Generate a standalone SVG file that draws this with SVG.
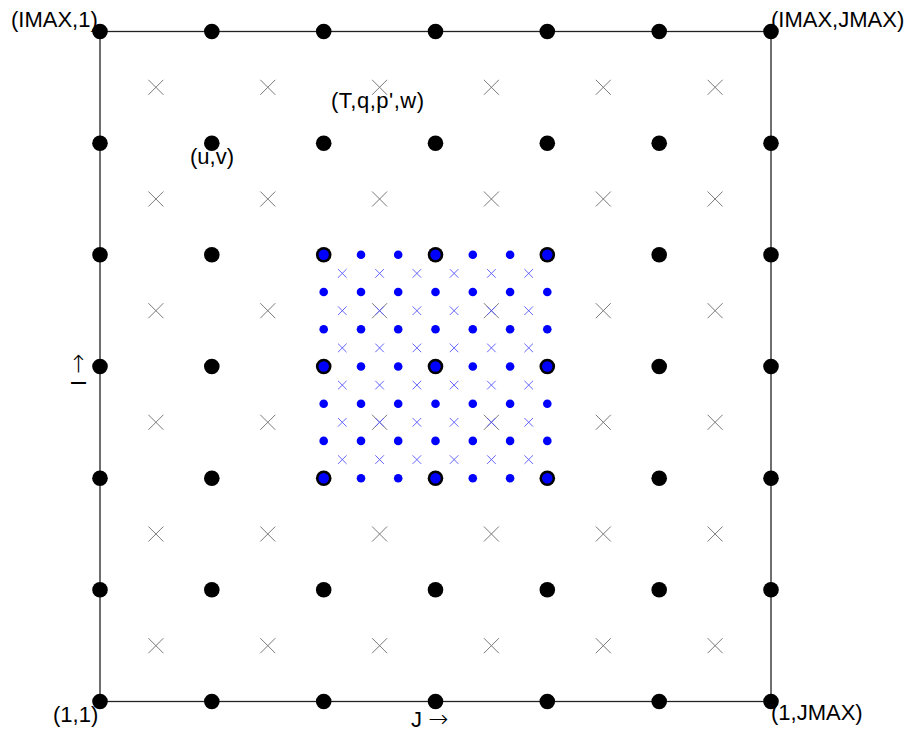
<svg xmlns="http://www.w3.org/2000/svg" xmlns:xlink="http://www.w3.org/1999/xlink" width="911" height="733" viewBox="0 0 911 733">
<style>
text{font-family:"Liberation Sans",Arial,sans-serif;font-size:22px;fill:#000}
.arr{font-family:"DejaVu Sans",sans-serif;font-size:24px;font-weight:200}
.frame{fill:none;stroke:#222;stroke-width:1.3}
</style>
<defs>
<path id="gx" d="M-7.5-7.5L7.5 7.5M7.5-7.5L-7.5 7.5" stroke="#7a7a7a" stroke-width="1" fill="none"/>
<path id="bx" d="M-4.3-4.3L4.3 4.3M4.3-4.3L-4.3 4.3" stroke="#5555ff" stroke-width="0.9" fill="none"/>
<circle id="kd" r="7.8" fill="#000"/>
<circle id="bd" r="4.3" fill="#0000ff"/>
<circle id="bc" r="5.2" fill="#0000ff"/>
</defs>
<rect width="911" height="733" fill="#fff"/>
<g id="connectors">
<rect class="frame" x="100" y="31.5" width="671" height="670"/>
</g>
<g id="mass-points">
<use href="#gx" x="155.9" y="87.3"/><use href="#gx" x="267.8" y="87.3"/><use href="#gx" x="379.6" y="87.3"/><use href="#gx" x="491.4" y="87.3"/><use href="#gx" x="603.3" y="87.3"/><use href="#gx" x="715.1" y="87.3"/>
<use href="#gx" x="155.9" y="199"/><use href="#gx" x="267.8" y="199"/><use href="#gx" x="379.6" y="199"/><use href="#gx" x="491.4" y="199"/><use href="#gx" x="603.3" y="199"/><use href="#gx" x="715.1" y="199"/>
<use href="#gx" x="155.9" y="310.7"/><use href="#gx" x="267.8" y="310.7"/><use href="#gx" x="379.6" y="310.7"/><use href="#gx" x="491.4" y="310.7"/><use href="#gx" x="603.3" y="310.7"/><use href="#gx" x="715.1" y="310.7"/>
<use href="#gx" x="155.9" y="422.3"/><use href="#gx" x="267.8" y="422.3"/><use href="#gx" x="379.6" y="422.3"/><use href="#gx" x="491.4" y="422.3"/><use href="#gx" x="603.3" y="422.3"/><use href="#gx" x="715.1" y="422.3"/>
<use href="#gx" x="155.9" y="534"/><use href="#gx" x="267.8" y="534"/><use href="#gx" x="379.6" y="534"/><use href="#gx" x="491.4" y="534"/><use href="#gx" x="603.3" y="534"/><use href="#gx" x="715.1" y="534"/>
<use href="#gx" x="155.9" y="645.7"/><use href="#gx" x="267.8" y="645.7"/><use href="#gx" x="379.6" y="645.7"/><use href="#gx" x="491.4" y="645.7"/><use href="#gx" x="603.3" y="645.7"/><use href="#gx" x="715.1" y="645.7"/>
</g>
<g id="fine-mass-points">
<use href="#bx" x="342.3" y="273.4"/><use href="#bx" x="379.6" y="273.4"/><use href="#bx" x="416.9" y="273.4"/><use href="#bx" x="454.1" y="273.4"/><use href="#bx" x="491.4" y="273.4"/><use href="#bx" x="528.7" y="273.4"/>
<use href="#bx" x="342.3" y="310.7"/><use href="#bx" x="379.6" y="310.7"/><use href="#bx" x="416.9" y="310.7"/><use href="#bx" x="454.1" y="310.7"/><use href="#bx" x="491.4" y="310.7"/><use href="#bx" x="528.7" y="310.7"/>
<use href="#bx" x="342.3" y="347.9"/><use href="#bx" x="379.6" y="347.9"/><use href="#bx" x="416.9" y="347.9"/><use href="#bx" x="454.1" y="347.9"/><use href="#bx" x="491.4" y="347.9"/><use href="#bx" x="528.7" y="347.9"/>
<use href="#bx" x="342.3" y="385.1"/><use href="#bx" x="379.6" y="385.1"/><use href="#bx" x="416.9" y="385.1"/><use href="#bx" x="454.1" y="385.1"/><use href="#bx" x="491.4" y="385.1"/><use href="#bx" x="528.7" y="385.1"/>
<use href="#bx" x="342.3" y="422.3"/><use href="#bx" x="379.6" y="422.3"/><use href="#bx" x="416.9" y="422.3"/><use href="#bx" x="454.1" y="422.3"/><use href="#bx" x="491.4" y="422.3"/><use href="#bx" x="528.7" y="422.3"/>
<use href="#bx" x="342.3" y="459.6"/><use href="#bx" x="379.6" y="459.6"/><use href="#bx" x="416.9" y="459.6"/><use href="#bx" x="454.1" y="459.6"/><use href="#bx" x="491.4" y="459.6"/><use href="#bx" x="528.7" y="459.6"/>
</g>
<g id="velocity-points">
<use href="#kd" x="100" y="31.5"/><use href="#kd" x="211.8" y="31.5"/><use href="#kd" x="323.7" y="31.5"/><use href="#kd" x="435.5" y="31.5"/><use href="#kd" x="547.3" y="31.5"/><use href="#kd" x="659.2" y="31.5"/><use href="#kd" x="771" y="31.5"/>
<use href="#kd" x="100" y="143.2"/><use href="#kd" x="211.8" y="143.2"/><use href="#kd" x="323.7" y="143.2"/><use href="#kd" x="435.5" y="143.2"/><use href="#kd" x="547.3" y="143.2"/><use href="#kd" x="659.2" y="143.2"/><use href="#kd" x="771" y="143.2"/>
<use href="#kd" x="100" y="254.8"/><use href="#kd" x="211.8" y="254.8"/><use href="#kd" x="323.7" y="254.8"/><use href="#kd" x="435.5" y="254.8"/><use href="#kd" x="547.3" y="254.8"/><use href="#kd" x="659.2" y="254.8"/><use href="#kd" x="771" y="254.8"/>
<use href="#kd" x="100" y="366.5"/><use href="#kd" x="211.8" y="366.5"/><use href="#kd" x="323.7" y="366.5"/><use href="#kd" x="435.5" y="366.5"/><use href="#kd" x="547.3" y="366.5"/><use href="#kd" x="659.2" y="366.5"/><use href="#kd" x="771" y="366.5"/>
<use href="#kd" x="100" y="478.2"/><use href="#kd" x="211.8" y="478.2"/><use href="#kd" x="323.7" y="478.2"/><use href="#kd" x="435.5" y="478.2"/><use href="#kd" x="547.3" y="478.2"/><use href="#kd" x="659.2" y="478.2"/><use href="#kd" x="771" y="478.2"/>
<use href="#kd" x="100" y="589.8"/><use href="#kd" x="211.8" y="589.8"/><use href="#kd" x="323.7" y="589.8"/><use href="#kd" x="435.5" y="589.8"/><use href="#kd" x="547.3" y="589.8"/><use href="#kd" x="659.2" y="589.8"/><use href="#kd" x="771" y="589.8"/>
<use href="#kd" x="100" y="701.5"/><use href="#kd" x="211.8" y="701.5"/><use href="#kd" x="323.7" y="701.5"/><use href="#kd" x="435.5" y="701.5"/><use href="#kd" x="547.3" y="701.5"/><use href="#kd" x="659.2" y="701.5"/><use href="#kd" x="771" y="701.5"/>
</g>
<g id="fine-velocity-points">
<use href="#bc" x="323.7" y="254.8"/><use href="#bd" x="361" y="254.8"/><use href="#bd" x="398.2" y="254.8"/><use href="#bc" x="435.5" y="254.8"/><use href="#bd" x="472.8" y="254.8"/><use href="#bd" x="510.1" y="254.8"/><use href="#bc" x="547.3" y="254.8"/>
<use href="#bd" x="323.7" y="292"/><use href="#bd" x="361" y="292"/><use href="#bd" x="398.2" y="292"/><use href="#bd" x="435.5" y="292"/><use href="#bd" x="472.8" y="292"/><use href="#bd" x="510.1" y="292"/><use href="#bd" x="547.3" y="292"/>
<use href="#bd" x="323.7" y="329.3"/><use href="#bd" x="361" y="329.3"/><use href="#bd" x="398.2" y="329.3"/><use href="#bd" x="435.5" y="329.3"/><use href="#bd" x="472.8" y="329.3"/><use href="#bd" x="510.1" y="329.3"/><use href="#bd" x="547.3" y="329.3"/>
<use href="#bc" x="323.7" y="366.5"/><use href="#bd" x="361" y="366.5"/><use href="#bd" x="398.2" y="366.5"/><use href="#bc" x="435.5" y="366.5"/><use href="#bd" x="472.8" y="366.5"/><use href="#bd" x="510.1" y="366.5"/><use href="#bc" x="547.3" y="366.5"/>
<use href="#bd" x="323.7" y="403.7"/><use href="#bd" x="361" y="403.7"/><use href="#bd" x="398.2" y="403.7"/><use href="#bd" x="435.5" y="403.7"/><use href="#bd" x="472.8" y="403.7"/><use href="#bd" x="510.1" y="403.7"/><use href="#bd" x="547.3" y="403.7"/>
<use href="#bd" x="323.7" y="440.9"/><use href="#bd" x="361" y="440.9"/><use href="#bd" x="398.2" y="440.9"/><use href="#bd" x="435.5" y="440.9"/><use href="#bd" x="472.8" y="440.9"/><use href="#bd" x="510.1" y="440.9"/><use href="#bd" x="547.3" y="440.9"/>
<use href="#bc" x="323.7" y="478.2"/><use href="#bd" x="361" y="478.2"/><use href="#bd" x="398.2" y="478.2"/><use href="#bc" x="435.5" y="478.2"/><use href="#bd" x="472.8" y="478.2"/><use href="#bd" x="510.1" y="478.2"/><use href="#bc" x="547.3" y="478.2"/>
</g>
<g id="labels">
<text x="11" y="27">(IMAX,1)</text>
<text x="771" y="27">(IMAX,JMAX)</text>
<text x="331" y="108" letter-spacing="0.5">(T,q,p',w)</text>
<text x="190" y="164">(u,v)</text>
<text x="53" y="722">(1,1)</text>
<text x="771" y="720">(1,JMAX)</text>
<text x="411" y="727">J <tspan class="arr">→</tspan></text>
<text transform="translate(86,386) rotate(-90)">I <tspan class="arr">→</tspan></text>
</g>
</svg>
